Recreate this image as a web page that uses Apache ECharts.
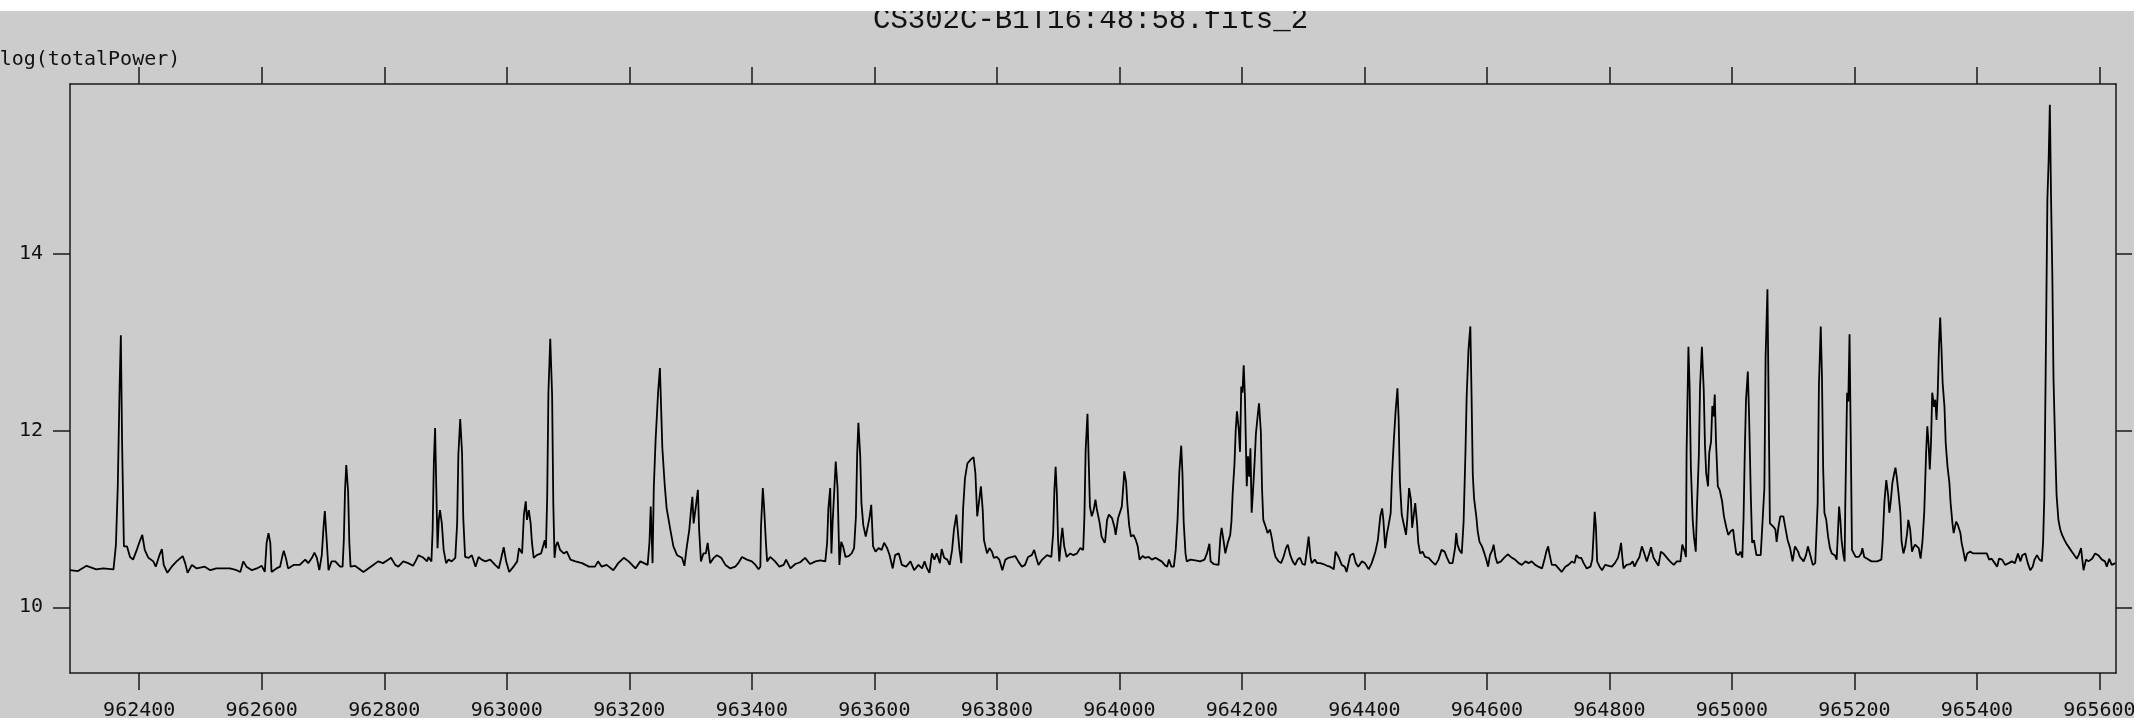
<!DOCTYPE html>
<html><head><meta charset="utf-8">
<script src="https://cdn.jsdelivr.net/npm/echarts@6/dist/echarts.min.js"></script>
<style>
html,body{margin:0;padding:0;background:#ffffff;width:2134px;height:721px;overflow:hidden}
#chart{position:absolute;left:0;top:11px;width:2134px;height:707px;background:#cccccc}
</style></head><body><div id="chart"></div>
<script>
const chartTitle = 'CS302C-B1T16:48:58.fits_2';
const yName = 'log(totalPower)';
const xRange = [962287, 965627];
const yRange = [9.256, 15.925];
const xTicks = [962400, 962600, 962800, 963000, 963200, 963400, 963600, 963800, 964000, 964200, 964400, 964600, 964800, 965000, 965200, 965400, 965600];
const yTicks = [10, 12, 14];

const seg1 = [[962287,10.42],[962300,10.41],[962314,10.47],[962330,10.43],[962341,10.44],[962358,10.43],[962362,10.71],[962365,11.37],[962368,12.50],[962370,13.08],[962372,11.88],[962374,11.87],[962375,10.69],[962380,10.69],[962385,10.57],[962390,10.54],[962396,10.65],[962401,10.75],[962405,10.82],[962409,10.65],[962415,10.56],[962423,10.52],[962427,10.46],[962433,10.59],[962437,10.66],[962440,10.48],[962446,10.39],[962453,10.46],[962461,10.52],[962471,10.58],[962475,10.50],[962479,10.39],[962486,10.48],[962494,10.44],[962507,10.46],[962516,10.42],[962526,10.44],[962537,10.44],[962548,10.44],[962559,10.42],[962565,10.40],[962570,10.52],[962575,10.46],[962584,10.42],[962592,10.44],[962600,10.47],[962605,10.40],[962608,10.73],[962611,10.84],[962614,10.73],[962616,10.40],[962624,10.44],[962630,10.46],[962634,10.59],[962636,10.64],[962640,10.54],[962643,10.44],[962652,10.48],[962662,10.48],[962671,10.54],[962676,10.50],[962682,10.56],[962686,10.62],[962690,10.56],[962694,10.42],[962698,10.59],[962701,10.92],[962703,11.09],[962706,10.76],[962709,10.42],[962714,10.52],[962720,10.52],[962728,10.46],[962732,10.46],[962734,10.76],[962736,11.33],[962738,11.61],[962741,11.31],[962743,10.73],[962745,10.46],[962752,10.47],[962760,10.43],[962766,10.40],[962774,10.44],[962782,10.48],[962790,10.52],[962798,10.50],[962807,10.54],[962811,10.56],[962818,10.48],[962823,10.46],[962831,10.52],[962839,10.50],[962847,10.47]];

const seg2 = [[962851,10.52],[962856,10.59],[962864,10.56],[962870,10.52],[962872,10.57],[962877,10.52],[962879,10.88],[962881,11.65],[962883,12.03],[962885,11.33],[962887,10.67],[962889,10.99],[962891,11.10],[962894,10.95],[962897,10.65],[962901,10.50],[962905,10.54],[962910,10.52],[962916,10.56],[962919,10.95],[962921,11.73],[962924,12.13],[962927,11.75],[962929,11.01],[962932,10.57],[962938,10.56],[962943,10.59],[962949,10.46],[962954,10.57],[962959,10.54],[962965,10.52],[962973,10.54],[962981,10.48],[962987,10.44],[962992,10.59],[962995,10.68],[962999,10.52],[963004,10.40],[963011,10.46],[963017,10.52],[963020,10.67],[963025,10.61],[963028,11.05],[963031,11.20],[963033,10.99],[963036,11.10],[963039,10.95],[963041,10.74],[963044,10.56],[963049,10.59],[963056,10.61],[963062,10.76],[963064,10.67],[963066,11.25],[963068,12.43],[963071,13.04],[963074,12.41],[963076,11.16],[963078,10.56],[963080,10.69],[963083,10.74],[963087,10.65],[963093,10.61],[963098,10.63],[963104,10.54],[963112,10.52],[963123,10.50],[963134,10.46],[963144,10.46],[963149,10.52],[963155,10.46],[963163,10.48],[963174,10.42],[963182,10.50],[963191,10.56],[963199,10.52],[963210,10.44],[963218,10.52],[963230,10.48],[963233,10.74],[963235,11.14],[963238,10.50],[963240,11.35],[963243,11.90],[963247,12.43],[963250,12.71],[963254,11.80],[963258,11.37],[963261,11.12],[963267,10.88],[963272,10.69],[963278,10.59],[963286,10.56],[963290,10.47],[963294,10.69],[963298,10.88],[963301,11.12],[963303,11.25],[963305,10.95],[963309,11.16],[963312,11.33],[963314,10.88],[963317,10.52],[963321,10.61],[963325,10.61],[963328,10.73],[963332,10.50],[963338,10.56],[963343,10.59],[963350,10.56],[963357,10.48],[963365,10.44],[963373,10.46],[963378,10.50],[963384,10.57],[963392,10.54],[963400,10.52],[963406,10.48],[963411,10.43]];

const seg3 = [[963414,10.46],[963415,10.91],[963418,11.35],[963420,11.14],[963423,10.74],[963425,10.52],[963430,10.57],[963438,10.52],[963445,10.46],[963452,10.48],[963456,10.54],[963463,10.44],[963471,10.49],[963479,10.51],[963487,10.56],[963495,10.49],[963504,10.52],[963512,10.53],[963520,10.52],[963523,10.73],[963525,11.12],[963528,11.35],[963530,10.61],[963532,10.97],[963535,11.37],[963537,11.65],[963540,11.35],[963542,10.78],[963543,10.48],[963546,10.74],[963549,10.69],[963553,10.57],[963558,10.58],[963563,10.61],[963567,10.67],[963570,11.03],[963572,11.73],[963574,12.09],[963577,11.71],[963579,11.18],[963582,10.93],[963586,10.80],[963589,10.80],[963592,11.01],[963595,11.16],[963598,10.69],[963602,10.63],[963607,10.67],[963612,10.65],[963616,10.73],[963621,10.67],[963625,10.59],[963630,10.44],[963634,10.59],[963640,10.61],[963645,10.48],[963652,10.46],[963659,10.52],[963665,10.42],[963672,10.48],[963678,10.44],[963682,10.52],[963686,10.44],[963690,10.39],[963694,10.61],[963698,10.54],[963702,10.61],[963707,10.50],[963710,10.66],[963714,10.56],[963719,10.54],[963723,10.48],[963727,10.65],[963730,10.88],[963734,11.05],[963736,11.03],[963739,10.65],[963742,10.50],[963745,11.12],[963748,11.46],[963752,11.63],[963757,11.67],[963762,11.70],[963765,11.52],[963768,11.03],[963771,11.20],[963774,11.37],[963777,11.10],[963779,10.76],[963784,10.61],[963788,10.67],[963792,10.63],[963795,10.56],[963800,10.57],[963804,10.54],[963809,10.42],[963814,10.54],[963819,10.56],[963825,10.57],[963830,10.58],[963835,10.52],[963841,10.46],[963846,10.48],[963851,10.57],[963857,10.59],[963861,10.65],[963864,10.57],[963868,10.48],[963874,10.54],[963882,10.59],[963889,10.57],[963892,10.84],[963894,11.33],[963896,11.59],[963898,11.29],[963900,10.76],[963902,10.52],[963905,10.78],[963907,10.90],[963910,10.69],[963914,10.57],[963920,10.61],[963925,10.59],[963931,10.61],[963936,10.67],[963941,10.65],[963943,11.03],[963945,11.78],[963948,12.19],[963950,11.65],[963952,11.14],[963955,11.03],[963958,11.10],[963961,11.22],[963963,11.12],[963968,10.95],[963971,10.80],[963976,10.73]];

const seg4 = [[963977,10.76],[963980,10.99],[963983,11.05],[963988,11.01],[963992,10.91],[963994,10.82],[963998,11.01],[964001,11.03],[964004,11.14],[964007,11.42],[964008,11.54],[964011,11.42],[964013,11.18],[964016,10.93],[964019,10.80],[964023,10.82],[964027,10.76],[964030,10.69],[964033,10.54],[964038,10.58],[964042,10.56],[964048,10.57],[964053,10.54],[964059,10.56],[964064,10.54],[964069,10.52],[964074,10.48],[964078,10.46],[964081,10.54],[964085,10.46],[964089,10.46],[964092,10.65],[964095,10.99],[964098,11.54],[964101,11.83],[964103,11.52],[964105,10.97],[964108,10.61],[964110,10.52],[964116,10.54],[964124,10.53],[964132,10.52],[964139,10.54],[964143,10.61],[964147,10.72],[964149,10.52],[964154,10.49],[964162,10.48],[964165,10.80],[964167,10.90],[964170,10.76],[964173,10.61],[964177,10.73],[964181,10.82],[964183,10.97],[964185,11.29],[964188,11.63],[964190,12.01],[964192,12.22],[964195,12.01],[964197,11.76],[964199,12.50],[964201,12.43],[964203,12.74],[964205,12.39],[964208,11.37],[964210,11.71],[964212,11.48],[964214,11.80],[964216,11.07],[964218,11.29],[964221,11.67],[964223,11.97],[964226,12.18],[964228,12.31],[964231,11.99],[964233,11.33],[964235,10.99],[964239,10.91],[964242,10.84],[964246,10.88],[964249,10.78],[964252,10.65],[964255,10.57],[964260,10.52],[964264,10.50],[964268,10.57],[964272,10.67],[964275,10.71],[964279,10.59],[964283,10.52],[964287,10.48],[964291,10.54],[964295,10.56],[964299,10.49],[964303,10.48],[964306,10.63],[964309,10.80],[964312,10.57],[964314,10.50],[964319,10.54],[964323,10.50],[964328,10.50],[964333,10.49],[964339,10.47],[964344,10.46],[964350,10.43],[964353,10.63],[964358,10.57],[964363,10.48],[964368,10.46],[964371,10.40],[964377,10.59],[964382,10.61],[964386,10.50],[964390,10.46],[964396,10.52],[964401,10.50],[964407,10.43],[964412,10.50],[964418,10.63],[964422,10.76],[964426,11.03],[964429,11.12],[964431,10.99],[964434,10.67],[964437,10.84],[964439,10.91],[964443,11.07],[964445,11.48],[964448,11.88],[964451,12.22],[964454,12.48],[964456,12.12],[964458,11.42],[964461,11.05],[964464,10.95],[964468,10.82],[964470,10.99],[964473,11.35],[964476,11.22],[964478,10.90],[964480,10.88],[964483,11.18],[964486,10.95],[964488,10.73],[964491,10.61],[964495,10.63],[964499,10.57],[964505,10.56],[964510,10.52],[964516,10.48],[964521,10.54],[964526,10.65],[964531,10.63],[964535,10.56],[964539,10.50]];

const seg5 = [[964540,10.48],[964544,10.50],[964548,10.67],[964550,10.84],[964552,10.71],[964555,10.65],[964559,10.61],[964562,10.97],[964565,11.75],[964567,12.39],[964570,12.92],[964573,13.18],[964575,12.39],[964577,11.50],[964579,11.24],[964583,11.01],[964585,10.86],[964588,10.74],[964592,10.69],[964596,10.61],[964599,10.54],[964602,10.46],[964605,10.59],[964609,10.65],[964611,10.71],[964614,10.57],[964617,10.50],[964623,10.52],[964628,10.56],[964634,10.60],[964641,10.56],[964646,10.54],[964652,10.50],[964657,10.48],[964663,10.52],[964668,10.50],[964673,10.52],[964679,10.48],[964684,10.46],[964690,10.44],[964694,10.54],[964697,10.63],[964700,10.69],[964702,10.61],[964706,10.48],[964712,10.48],[964717,10.44],[964722,10.40],[964728,10.46],[964733,10.48],[964739,10.52],[964743,10.50],[964746,10.59],[964750,10.56],[964754,10.56],[964758,10.50],[964763,10.44],[964769,10.46],[964772,10.54],[964774,10.80],[964776,11.08],[964778,10.91],[964780,10.52],[964784,10.46],[964788,10.42],[964793,10.48],[964799,10.47],[964804,10.46],[964809,10.50],[964814,10.56],[964817,10.65],[964819,10.73],[964821,10.57],[964823,10.44],[964828,10.48],[964834,10.49],[964838,10.52],[964841,10.46],[964845,10.52],[964849,10.57],[964853,10.69],[964857,10.61],[964861,10.52],[964865,10.61],[964868,10.68],[964872,10.56],[964875,10.54],[964880,10.47],[964884,10.63],[964888,10.61],[964894,10.56],[964899,10.52],[964905,10.48],[964910,10.52],[964916,10.52],[964919,10.71],[964923,10.63],[964925,10.57],[964926,11.75],[964929,12.95],[964931,12.48],[964933,11.58],[964936,10.99],[964938,10.80],[964941,10.63],[964943,11.14],[964946,11.71],[964948,12.50],[964951,12.95],[964954,12.46],[964956,11.84],[964958,11.52],[964961,11.37],[964963,11.75],[964966,11.88],[964968,12.28],[964970,12.16],[964972,12.41],[964974,11.88],[964977,11.37],[964980,11.33],[964984,11.20],[964987,11.03],[964991,10.90],[964994,10.82],[964998,10.86],[965002,10.88],[965004,10.76],[965007,10.61],[965011,10.59],[965014,10.63],[965017,10.56],[965019,11.01],[965021,11.75],[965023,12.35],[965026,12.67],[965028,12.18],[965031,11.22],[965033,10.73],[965036,10.76],[965040,10.59],[965043,10.61],[965047,10.59],[965050,10.61],[965053,11.35],[965055,12.84],[965058,13.60],[965060,12.28],[965062,10.95],[965065,10.95],[965068,10.91],[965071,10.88],[965073,10.74],[965076,10.91],[965079,11.03],[965082,11.05],[965084,11.03],[965087,10.91],[965091,10.76],[965095,10.67],[965099,10.52],[965102,10.65]];

const seg6 = [[965103,10.69],[965108,10.63],[965111,10.57],[965117,10.52],[965121,10.59],[965124,10.69],[965128,10.59],[965132,10.48],[965136,10.50],[965139,10.52],[965140,11.18],[965142,12.50],[965145,13.18],[965147,12.61],[965149,11.56],[965151,11.07],[965154,10.99],[965157,10.80],[965160,10.67],[965163,10.61],[965168,10.59],[965171,10.54],[965173,10.84],[965175,11.14],[965177,10.99],[965179,10.76],[965182,10.59],[965184,10.52],[965185,11.12],[965188,12.43],[965190,12.33],[965192,13.09],[965194,11.90],[965196,10.65],[965199,10.61],[965202,10.57],[965207,10.57],[965211,10.61],[965213,10.67],[965216,10.57],[965219,10.59],[965223,10.54],[965228,10.52],[965237,10.52],[965244,10.54],[965246,10.74],[965249,11.20],[965252,11.44],[965255,11.27],[965257,11.07],[965259,11.18],[965262,11.41],[965265,11.52],[965267,11.58],[965269,11.48],[965272,11.29],[965275,11.07],[965277,10.74],[965280,10.61],[965283,10.69],[965286,10.84],[965288,10.99],[965291,10.88],[965294,10.63],[965296,10.67],[965299,10.71],[965302,10.73],[965305,10.67],[965308,10.55],[965311,10.74],[965314,11.08],[965317,11.75],[965319,12.05],[965321,11.86],[965323,11.56],[965325,11.86],[965327,12.43],[965330,12.27],[965332,12.35],[965334,12.12],[965336,12.43],[965338,12.95],[965340,13.28],[965342,12.94],[965344,12.54],[965347,12.27],[965349,11.86],[965352,11.59],[965355,11.41],[965357,11.18],[965360,10.95],[965362,10.84],[965366,10.97],[965369,10.93],[965373,10.84],[965375,10.73],[965378,10.63],[965381,10.52],[965384,10.61],[965389,10.63],[965394,10.61],[965400,10.61],[965405,10.61],[965411,10.61],[965416,10.61],[965420,10.54],[965424,10.55],[965429,10.50],[965433,10.46],[965436,10.55],[965441,10.54],[965446,10.48],[965452,10.50],[965457,10.52],[965462,10.50],[965467,10.61],[965471,10.52],[965474,10.59],[965479,10.61],[965483,10.50],[965487,10.42],[965491,10.46],[965494,10.54],[965498,10.59],[965502,10.54],[965506,10.52],[965508,10.74],[965510,11.25],[965512,12.54],[965515,14.62],[965517,15.05],[965519,15.69],[965521,14.62],[965523,13.79],[965525,12.58],[965528,11.75],[965530,11.27],[965533,10.99],[965536,10.88],[965539,10.82],[965543,10.76],[965547,10.71],[965551,10.67],[965555,10.63],[965559,10.59],[965563,10.55],[965566,10.59],[965570,10.67],[965572,10.54],[965574,10.42],[965578,10.54],[965582,10.52],[965588,10.55],[965593,10.61],[965598,10.59],[965604,10.54],[965609,10.52],[965612,10.46],[965616,10.55],[965620,10.48],[965623,10.50],[965626,10.50]];

const powerData = [].concat(seg1, seg2, seg3, seg4, seg5, seg6);

const INK = '#1a1a1a';
const axisLineStyle = { color: INK, width: 1.5 };
const labelFont = { fontFamily: 'DejaVu Sans Mono', fontSize: 20, color: '#111' };

const chart = echarts.init(document.getElementById('chart'), null, { renderer: 'canvas' });
chart.setOption({
  animation: false,
  backgroundColor: '#cccccc',
  title: {
    text: chartTitle,
    left: 868,
    top: -10,
    textStyle: { fontFamily: 'Liberation Mono', fontSize: 29, fontWeight: 'normal', color: '#111' }
  },
  grid: { left: 70, right: 18, top: 73, bottom: 45, containLabel: false, outerBoundsMode: 'none' },
  xAxis: [
    {
      type: 'value', position: 'bottom', min: xRange[0], max: xRange[1],
      axisLine: { show: true, onZero: false, lineStyle: axisLineStyle },
      axisTick: { show: true, inside: false, length: 17, customValues: xTicks, lineStyle: axisLineStyle },
      axisLabel: Object.assign({ show: true, margin: 28, customValues: xTicks, formatter: v => String(v) }, labelFont),
      splitLine: { show: false }
    },
    {
      type: 'value', position: 'top', min: xRange[0], max: xRange[1],
      axisLine: { show: true, onZero: false, lineStyle: axisLineStyle },
      axisTick: { show: true, inside: false, length: 17, customValues: xTicks, lineStyle: axisLineStyle },
      axisLabel: { show: false },
      splitLine: { show: false }
    }
  ],
  yAxis: [
    {
      type: 'value', position: 'left', min: yRange[0], max: yRange[1],
      name: yName, nameLocation: 'end', nameGap: 14,
      nameTextStyle: { fontFamily: 'DejaVu Sans Mono', fontSize: 20, color: '#111', align: 'center', verticalAlign: 'bottom', padding: [0, 0, 0, 40] },
      axisLine: { show: true, onZero: false, lineStyle: axisLineStyle },
      axisTick: { show: true, inside: false, length: 17, customValues: yTicks, lineStyle: axisLineStyle },
      axisLabel: Object.assign({ show: true, margin: 27, customValues: yTicks, padding: [4, 0, 0, 0], formatter: v => String(v) }, labelFont),
      splitLine: { show: false }
    },
    {
      type: 'value', position: 'right', min: yRange[0], max: yRange[1],
      axisLine: { show: true, onZero: false, lineStyle: axisLineStyle },
      axisTick: { show: true, inside: false, length: 16, customValues: yTicks, lineStyle: axisLineStyle },
      axisLabel: { show: false },
      splitLine: { show: false }
    }
  ],
  series: [{
    type: 'line',
    xAxisIndex: 0, yAxisIndex: 0,
    data: powerData,
    showSymbol: false,
    symbol: 'none',
    smooth: false,
    lineStyle: { color: '#000', width: 1.8 },
    emphasis: { disabled: true },
    clip: true
  }]
});
</script></body></html>
